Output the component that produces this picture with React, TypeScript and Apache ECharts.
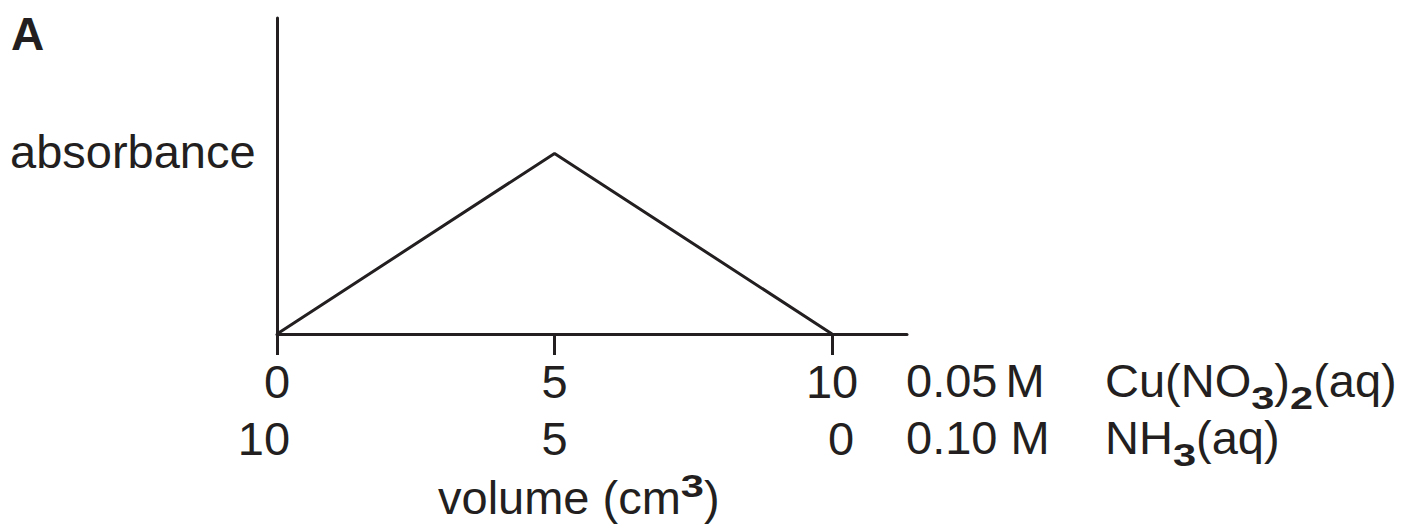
import React, { useEffect, useRef } from "react";
import * as echarts from "echarts";

// ---- data ----
const cuVolume = [0, 5, 10];           // cm3 of 0.05 M Cu(NO3)2(aq)
const absorbanceValues = [0, 4, 0];    // relative absorbance
const cuTickValues = [0, 5, 10];
const nh3TickValues = [10, 5, 0];      // cm3 of 0.10 M NH3(aq) (= 10 - Cu volume)
const X_MAX = 11.35;
const Y_MAX = 7;

const panelLabel = "A";
const yLabel = "absorbance";
const row1Conc = ["0.05", "M"];
const row2Conc = "0.10 M";
const row1Species = [
  { t: "Cu(NO" },
  { t: "3", sub: true },
  { t: ")" },
  { t: "2", sub: true },
  { t: "(aq)" },
];
const row2Species = [{ t: "NH" }, { t: "3", sub: true }, { t: "(aq)" }];
const xLabel = [{ t: "volume (cm" }, { t: "3", sup: true }, { t: ")" }];

// ---- style ----
const FONT = '"Liberation Sans", Arial, Helvetica, sans-serif';
const INK = "#231f20";
const SIZE = 47;
const SUB = 32;
const SUBX = 1.3;
const K = 0.3465; // central baseline offset (em) above alphabetic

let ctx: CanvasRenderingContext2D | null = null;
function measure(t: string, size: number, weight: string) {
  if (!ctx) ctx = document.createElement("canvas").getContext("2d");
  if (!ctx) return t.length * size * 0.55;
  ctx.font = `${weight} ${size}px ${FONT}`;
  return ctx.measureText(t).width;
}

function txt(x: number, baseline: number, t: string, size = SIZE, weight = "normal", scaleX = 1) {
  return {
    type: "text",
    x,
    y: baseline - K * size,
    scaleX,
    silent: true,
    style: {
      text: t,
      x: 0,
      y: 0,
      fill: INK,
      fontSize: size,
      fontFamily: FONT,
      fontWeight: weight,
      align: "left",
      verticalAlign: "middle",
      textAlign: "left",
      textVerticalAlign: "middle",
    },
  };
}

function run(x0: number, baseline: number, pieces: { t: string; sub?: boolean; sup?: boolean }[]) {
  const out: any[] = [];
  let x = x0;
  for (const p of pieces) {
    if (p.sub || p.sup) {
      const b = p.sub ? baseline + 12 : baseline - 17;
      out.push(txt(x, b, p.t, SUB, "bold", SUBX));
      x += measure(p.t, SUB, "bold") * SUBX;
    } else {
      out.push(txt(x, baseline, p.t));
      x += measure(p.t, SIZE, "normal");
    }
  }
  return out;
}

export default function App() {
  const ref = useRef<HTMLDivElement>(null);
  useEffect(() => {
    if (!ref.current) return;
    const chart = echarts.init(ref.current, null, { renderer: "svg" });
    const row1 = 397;
    const row2 = 454;
    const graphics: any[] = [
      txt(11, 50, panelLabel, 46, "bold"),
      txt(10, 168, yLabel),
      txt(906, row1, row1Conc[0]),
      txt(906 + measure(row1Conc[0], SIZE, "normal") + 8, row1, row1Conc[1]),
      txt(906, row2, row2Conc),
      ...run(1105, row1, row1Species),
      ...run(1105, row2, row2Species),
      ...run(438, 514, xLabel),
    ];
    const labelBase = { fontSize: SIZE, fontFamily: FONT, color: INK };
    chart.setOption({
      animation: false,
      grid: { left: 277, right: 495, top: 18, bottom: 194, containLabel: false },
      xAxis: [
        {
          type: "value",
          min: 0,
          max: X_MAX,
          position: "bottom",
          axisLine: { show: true, lineStyle: { color: INK, width: 3 } },
          axisTick: { show: true, customValues: cuTickValues, length: 21, lineStyle: { color: INK, width: 3 } },
          axisLabel: { show: true, customValues: cuTickValues, margin: 24, ...labelBase },
          splitLine: { show: false },
        },
        {
          type: "value",
          min: 10 - X_MAX,
          max: 10,
          inverse: true,
          position: "bottom",
          offset: 57,
          axisLine: { show: false },
          axisTick: { show: false },
          axisLabel: {
            show: true,
            customValues: nh3TickValues,
            margin: 24,
            ...labelBase,
            formatter: (v: number) => (v === 10 ? "{a|10}" : v === 0 ? "{b|0}" : "{c|" + v + "}"),
            rich: {
              a: { ...labelBase, padding: [0, 26, 0, 0] },
              b: { ...labelBase, padding: [0, 0, 0, 18] },
              c: { ...labelBase },
            },
          },
          splitLine: { show: false },
        },
      ],
      yAxis: {
        type: "value",
        min: 0,
        max: Y_MAX,
        axisLine: { show: true, lineStyle: { color: INK, width: 3 } },
        axisTick: { show: false },
        axisLabel: { show: false },
        splitLine: { show: false },
      },
      series: [
        {
          type: "line",
          xAxisIndex: 0,
          data: cuVolume.map((v, i) => [v, absorbanceValues[i]]),
          symbol: "none",
          lineStyle: { color: INK, width: 3 },
          z: 3,
        },
      ],
      graphic: graphics,
    });
    return () => chart.dispose();
  }, []);
  return (
    <div
      ref={ref}
      style={{ position: "absolute", left: 0, top: 0, width: 1402, height: 528, background: "#fff" }}
    />
  );
}
